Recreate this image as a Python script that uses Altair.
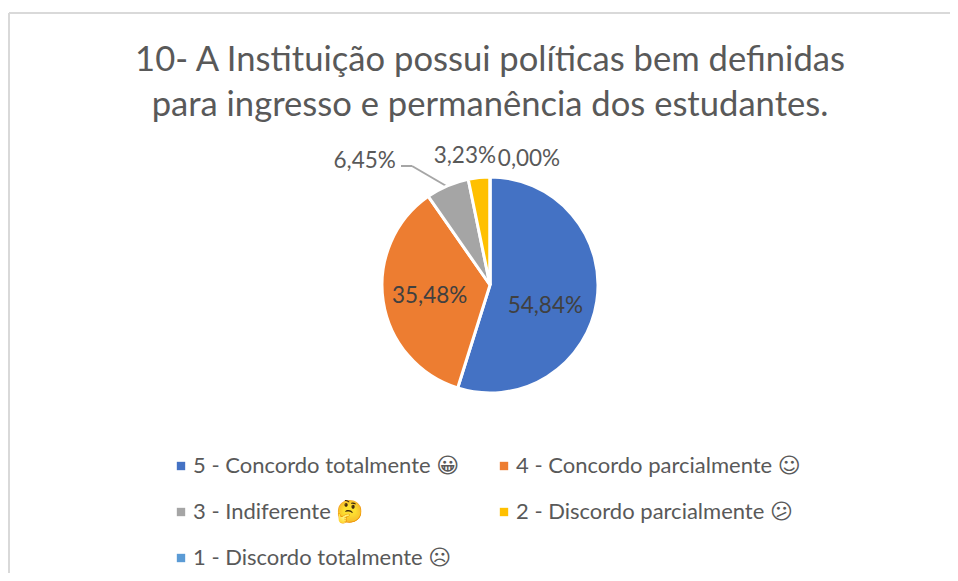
import altair as alt
import pandas as pd

categories = ["5 - Concordo totalmente  😀", "4 - Concordo parcialmente  ☺",
              "3 - Indiferente 🤔", "2 - Discordo parcialmente  😕",
              "1 - Discordo totalmente  ☹"]
values = [54.84, 35.48, 6.45, 3.23, 0.00]
labels = ["54,84%", "35,48%", "6,45%", "3,23%", "0,00%"]
colors = ["#4472C4", "#ED7D31", "#A5A5A5", "#FFC000", "#5B9BD5"]
legend_order = [0, 2, 4, 1, 3]
title_lines = ["10- A Instituição possui políticas bem definidas",
               "para ingresso e permanência dos estudantes."]

FONT = "Lato, DejaVu Sans"
mids, run = [], 0.0
for v in values:
    mids.append(run + v / 2)
    run += v
df = pd.DataFrame({"cat": categories, "value": values, "label": labels, "mid": mids,
                   "order": list(range(len(values)))})

base = alt.Chart(df)
dom = [categories[i] for i in legend_order]
rng = [colors[i] for i in legend_order]
pie = base.mark_arc(outerRadius=108, stroke="white", strokeWidth=3).encode(
    theta=alt.Theta("value:Q", stack=True),
    order=alt.Order("order:Q"),
    color=alt.Color("cat:N", sort=dom,
                    scale=alt.Scale(domain=dom, range=rng),
                    legend=alt.Legend(title=None, orient="none", legendX=140, legendY=312,
                                      columns=2, symbolType="square", symbolSize=70,
                                      symbolStrokeWidth=0, labelFont=FONT, labelFontSize=22,
                                      labelColor="#595959", labelLimit=400, labelOffset=1,
                                      columnPadding=28, rowPadding=24, symbolOffset=0)),
)

# label placement: radius, dx, dy, colour
placement = {
    "54,84%": (58, -2, 12, "#404040"),
    "35,48%": (60, -1, 2, "#404040"),
    "6,45%": (130, -74, -5, "#595959"),
    "3,23%": (130, -12, 0, "#595959"),
    "0,00%": (130, 39, 4, "#595959"),
}
texts = []
for lab, (r, dx, dy, col) in placement.items():
    texts.append(
        base.transform_filter(alt.datum.label == lab)
        .mark_text(radius=r, dx=dx, dy=dy, font=FONT, fontSize=22.5, color=col)
        .encode(theta=alt.Theta("mid:Q", stack=None, scale=alt.Scale(domain=[0, 100], range=[0, 6.28318])),
                text="label:N")
    )

GREY = "#D9D9D9"
anchor = pd.DataFrame({"a": [0]})
def rule(x, y, x2=None, y2=None, color=GREY, w=2):
    enc = dict(x=alt.value(x), y=alt.value(y))
    if x2 is not None:
        enc["x2"] = alt.value(x2)
    if y2 is not None:
        enc["y2"] = alt.value(y2)
    return alt.Chart(anchor).mark_rule(color=color, strokeWidth=w, clip=False).encode(**enc)

# offsets relative to plot area (top padding 135, left padding 22)
frame = [rule(-21, -130, x2=930), rule(-21, -130, y2=440)]
leader = [rule(371, 23, x2=382, y2=23, color="#A6A6A6", w=2),
          rule(382, 23, x2=418, y2=44, color="#A6A6A6", w=2)]
titles = [alt.Chart(pd.DataFrame({"t": [t]})).mark_text(
              font=FONT, fontSize=34.6, color="#595959", align="center", baseline="alphabetic", clip=False
          ).encode(text="t:N", x=alt.value(460), y=alt.value(-72 + 45 * i))
          for i, t in enumerate(title_lines)]

chart = alt.layer(*frame, *leader, *titles, pie, *texts).resolve_scale(theta="independent").properties(
    width=920, height=284,
    padding={"left": 22, "top": 135, "right": 0, "bottom": 146},
    autosize=alt.AutoSizeParams(type="none"),
).configure_view(stroke=None)

chart.save("out.html", embed_options={"renderer": "svg", "actions": False})
